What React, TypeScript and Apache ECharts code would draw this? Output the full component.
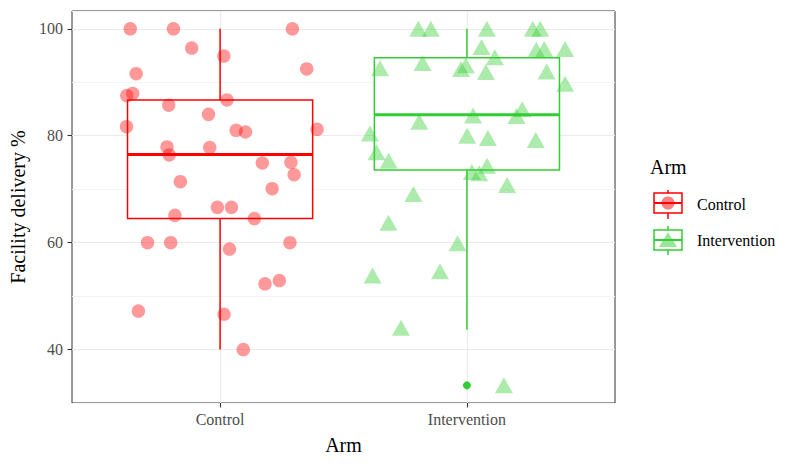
import React, { useEffect, useRef } from "react";
import * as echarts from "echarts";

// ---- data ----
const categories = ["Control", "Intervention"];
const categoryPositions = [1, 2];
const yTickValues = [40, 60, 80, 100];
const armColors = ["#FF0000", "#32CD32"];
const armPointColors = ["rgba(255,0,0,0.5)", "rgba(50,205,50,0.5)"];

// box statistics per arm: [position, lower whisker, Q1, median, Q3, upper whisker]
const boxLower = [40, 43.7];
const boxQ1 = [64.5, 73.6];
const boxMedian = [76.5, 83.9];
const boxQ3 = [86.7, 94.6];
const boxUpper = [100, 100];
const outlierPoints: [number, number][] = [[2, 33.3]];

// jittered observations [x position, facility delivery %]
const controlPoints: [number, number][] = [
  [0.636, 100], [0.811, 100], [1.293, 100], [0.885, 96.4], [1.015, 94.9],
  [0.66, 91.6], [1.351, 92.5], [0.622, 87.5], [0.646, 87.9], [1.028, 86.7],
  [0.792, 85.7], [0.953, 84.0], [0.621, 81.7], [1.065, 81.0], [1.103, 80.7],
  [1.393, 81.2], [0.785, 77.9], [0.958, 77.8], [0.794, 76.4], [1.171, 74.9],
  [1.287, 75.0], [1.3, 72.7], [0.839, 71.4], [1.211, 70.1], [0.989, 66.6],
  [1.046, 66.6], [0.817, 65.1], [1.139, 64.5], [0.706, 60.0], [0.8, 60.0],
  [1.283, 60.0], [1.038, 58.8], [1.182, 52.3], [1.24, 52.9], [0.669, 47.2],
  [1.016, 46.6], [1.094, 40.0],
];
const interventionPoints: [number, number][] = [
  [1.803, 100], [1.854, 100], [2.081, 100], [2.267, 100], [2.297, 100],
  [2.059, 96.6], [2.281, 96.1], [2.313, 96.2], [2.398, 96.2], [2.113, 94.7],
  [1.648, 92.6], [1.82, 93.6], [1.976, 92.5], [1.996, 93.2], [2.077, 91.9],
  [2.323, 92.0], [2.398, 89.7], [2.224, 84.95], [2.201, 83.7], [2.025, 83.8],
  [1.807, 82.6], [1.607, 80.4], [2.001, 80.0], [2.085, 79.55], [2.279, 79.2],
  [1.634, 76.9], [1.683, 75.3], [2.082, 74.4], [2.02, 73.2], [2.05, 73.0],
  [2.163, 70.8], [1.783, 69.1], [1.682, 63.7], [1.962, 59.9], [1.618, 53.85],
  [1.891, 54.65], [1.733, 44.1], [2.15, 33.3],
];

const FONT = "'Liberation Serif', 'Times New Roman', 'DejaVu Serif', serif";
const BOX_HALF = 0.375;

export default function App() {
  const ref = useRef<HTMLDivElement>(null);

  useEffect(() => {
    if (!ref.current) return;
    const chart = echarts.init(ref.current, undefined, { renderer: "svg" });

    const boxData = categoryPositions.map((p, i) => [
      p, boxLower[i], boxQ1[i], boxMedian[i], boxQ3[i], boxUpper[i],
    ]);

    // x split line colours: ticks 0.4,0.6,...,2.6; visible only at 1.0 and 2.0
    const xSplitColors: string[] = [];
    for (let i = 0; i < 12; i++) xSplitColors.push(i === 3 || i === 8 ? "#EBEBEB" : "rgba(0,0,0,0)");

    const option: any = {
      animation: false,
      backgroundColor: "#ffffff",
      grid: {
        left: 72,
        top: 11,
        width: 543,
        height: 392,
        show: true,
        borderColor: "#333333",
        borderWidth: 1,
        backgroundColor: "#ffffff",
      },
      xAxis: [
        {
          type: "value",
          min: 0.4,
          max: 2.6,
          interval: 0.2,
          axisLine: { show: false },
          axisTick: { show: false },
          axisLabel: { show: false },
          splitLine: { show: true, lineStyle: { color: xSplitColors, width: 1.1 } },
        },
        {
          type: "value",
          min: 0.4,
          max: 2.6,
          position: "bottom",
          axisLine: { show: false },
          splitLine: { show: false },
          axisTick: {
            show: true,
            customValues: categoryPositions,
            length: 4.5,
            lineStyle: { color: "#333333", width: 1.1 },
          },
          axisLabel: {
            show: true,
            customValues: categoryPositions,
            formatter: (v: number) => categories[categoryPositions.indexOf(Math.round(v))] ?? "",
            color: "#4D4D4D",
            fontFamily: FONT,
            fontSize: 16,
            margin: 8,
          },
          name: "Arm",
          nameLocation: "middle",
          nameGap: 32,
          nameTextStyle: { color: "#000000", fontFamily: FONT, fontSize: 20 },
        },
      ],
      yAxis: [
        {
          type: "value",
          min: 30,
          max: 103.33,
          interval: 10,
          axisLine: { show: false },
          axisTick: { show: false },
          axisLabel: { show: false },
          splitLine: { show: true, lineStyle: { color: ["#F4F4F4", "#EBEBEB"], width: 1.1 } },
        },
        {
          type: "value",
          min: 30,
          max: 103.33,
          position: "left",
          axisLine: { show: false },
          splitLine: { show: false },
          axisTick: {
            show: true,
            customValues: yTickValues,
            length: 4.5,
            lineStyle: { color: "#333333", width: 1.1 },
          },
          axisLabel: {
            show: true,
            customValues: yTickValues,
            color: "#4D4D4D",
            fontFamily: FONT,
            fontSize: 16,
            margin: 9,
          },
          name: "Facility delivery %",
          nameLocation: "middle",
          nameRotate: 90,
          nameGap: 40,
          nameTextStyle: { color: "#000000", fontFamily: FONT, fontSize: 20 },
        },
      ],
      series: [
        {
          type: "custom",
          name: "box",
          xAxisIndex: 0,
          yAxisIndex: 0,
          z: 2,
          encode: { x: 0, y: [1, 2, 3, 4, 5] },
          data: boxData,
          renderItem: (params: any, api: any) => {
            const x = api.value(0);
            const lo = api.value(1);
            const q1 = api.value(2);
            const med = api.value(3);
            const q3 = api.value(4);
            const hi = api.value(5);
            const color = armColors[params.dataIndex];
            const tl = api.coord([x - BOX_HALF, q3]);
            const br = api.coord([x + BOX_HALF, q1]);
            const pHi = api.coord([x, hi]);
            const pQ3 = api.coord([x, q3]);
            const pQ1 = api.coord([x, q1]);
            const pLo = api.coord([x, lo]);
            const mL = api.coord([x - BOX_HALF, med]);
            const mR = api.coord([x + BOX_HALF, med]);
            const lineStyle = { stroke: color, lineWidth: 1.5 };
            return {
              type: "group",
              children: [
                { type: "line", shape: { x1: pHi[0], y1: pHi[1], x2: pQ3[0], y2: pQ3[1] }, style: lineStyle },
                { type: "line", shape: { x1: pQ1[0], y1: pQ1[1], x2: pLo[0], y2: pLo[1] }, style: lineStyle },
                {
                  type: "rect",
                  shape: { x: tl[0], y: tl[1], width: br[0] - tl[0], height: br[1] - tl[1] },
                  style: { fill: "#ffffff", stroke: color, lineWidth: 1.5 },
                },
                { type: "line", shape: { x1: mL[0], y1: mL[1], x2: mR[0], y2: mR[1] }, style: { stroke: color, lineWidth: 3 } },
              ],
            };
          },
        },
        {
          type: "scatter",
          name: "outliers",
          xAxisIndex: 0,
          yAxisIndex: 0,
          z: 3,
          symbol: "circle",
          symbolSize: 8,
          itemStyle: { color: armColors[1], opacity: 1 },
          data: outlierPoints,
        },
        {
          type: "scatter",
          name: categories[0],
          xAxisIndex: 0,
          yAxisIndex: 0,
          z: 4,
          symbol: "circle",
          symbolSize: 13.5,
          itemStyle: { color: armPointColors[0] },
          data: controlPoints,
        },
        {
          type: "scatter",
          name: categories[1],
          xAxisIndex: 0,
          yAxisIndex: 0,
          z: 4,
          symbol: "triangle",
          symbolSize: [18, 16],
          itemStyle: { color: armPointColors[1] },
          data: interventionPoints,
        },
      ],
      graphic: [
        {
          type: "text",
          left: 650,
          top: 157,
          style: { text: "Arm", fontFamily: FONT, fontSize: 20, fill: "#000000" },
        },
        // Control key
        { type: "line", shape: { x1: 668, y1: 190, x2: 668, y2: 219 }, style: { stroke: armColors[0], lineWidth: 1.5 } },
        { type: "rect", shape: { x: 654, y: 193, width: 28, height: 20 }, style: { fill: "#ffffff", stroke: armColors[0], lineWidth: 1.5 } },
        { type: "line", shape: { x1: 654, y1: 203, x2: 682, y2: 203 }, style: { stroke: armColors[0], lineWidth: 2 } },
        { type: "circle", shape: { cx: 668, cy: 203, r: 6.5 }, style: { fill: armPointColors[0] } },
        {
          type: "text",
          left: 697,
          top: 196,
          style: { text: categories[0], fontFamily: FONT, fontSize: 16, fill: "#000000" },
        },
        // Intervention key
        { type: "line", shape: { x1: 668, y1: 226, x2: 668, y2: 255 }, style: { stroke: armColors[1], lineWidth: 1.5 } },
        { type: "rect", shape: { x: 654, y: 230, width: 28, height: 20 }, style: { fill: "#ffffff", stroke: armColors[1], lineWidth: 1.5 } },
        { type: "line", shape: { x1: 654, y1: 240, x2: 682, y2: 240 }, style: { stroke: armColors[1], lineWidth: 2 } },
        { type: "polygon", shape: { points: [[668, 232], [677, 247], [659, 247]] }, style: { fill: armPointColors[1] } },
        {
          type: "text",
          left: 697,
          top: 232,
          style: { text: categories[1], fontFamily: FONT, fontSize: 16, fill: "#000000" },
        },
      ],
    };

    chart.setOption(option);
    return () => chart.dispose();
  }, []);

  return (
    <div
      ref={ref}
      style={{ position: "fixed", left: 0, top: 0, width: 798, height: 466, background: "#ffffff" }}
    />
  );
}
